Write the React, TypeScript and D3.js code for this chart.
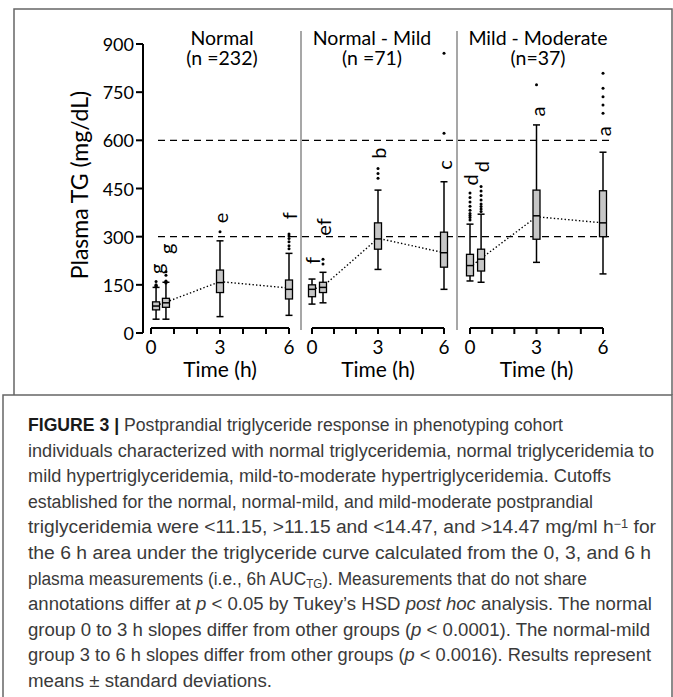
import * as d3 from "d3";
import { useEffect, useRef } from "react";

const yTicks = [0, 150, 300, 450, 600, 750, 900];
const xTicks = [0, 1, 2, 3, 4, 5, 6];
const xLabels = [0, 3, 6];
const cutoffs = [300, 600];

const groupNames = ["Normal", "Normal - Mild", "Mild - Moderate"];
const groupN = ["(n =232)", "(n =71)", "(n=37)"];

// sampling time of each box (h)
const normalTimes = [0.22, 0.65, 3, 6];
const otherTimes = [0, 0.5, 3, 6];

// [whisker low, q1, median, q3, whisker high] (mg/dL)
const normalBoxes = [[43, 72, 84, 97, 142], [43, 80, 94, 108, 158], [51, 126, 157, 196, 287], [55, 106, 136, 165, 248]];
const mildBoxes = [[90, 113, 136, 150, 168], [94, 126, 142, 158, 189], [198, 261, 293, 343, 445], [136, 205, 250, 314, 471]];
const moderateBoxes = [[162, 178, 210, 245, 339], [158, 193, 230, 261, 370], [220, 292, 365, 445, 648], [184, 300, 343, 443, 563]];

const normalOutliers = [[144, 146, 148, 150, 160], [156, 158, 160, 162, 180, 191], [315], [262, 272, 284, 294, 302, 308]];
const mildOutliers = [[], [215, 230], [482, 497, 512], [622, 871]];
const moderateOutliers = [[352, 360, 366, 372, 382, 395, 408, 422, 436], [378, 386, 394, 402, 414, 428, 442, 456], [773], [684, 710, 736, 762, 809]];

const normalMeans = [86, 96, 160, 140];
const mildMeans = [136, 145, 295, 250];
const moderateMeans = [205, 232, 362, 343];

const normalLetters = ["g", "g", "e", "f"];
const mildLetters = ["f", "ef", "b", "c"];
const moderateLetters = ["d", "d", "a", "a"];
const normalLetterAt = [200, 262, 358, 365];
const mildLetterAt = [226, 330, 560, 523];
const moderateLetterAt = [477, 518, 690, 628];

const captionLines = [
  [{ t: "FIGURE 3 | ", b: true }, { t: "Postprandial triglyceride response in phenotyping cohort" }],
  [{ t: "individuals characterized with normal triglyceridemia, normal triglyceridemia to" }],
  [{ t: "mild hypertriglyceridemia, mild-to-moderate hypertriglyceridemia. Cutoffs" }],
  [{ t: "established for the normal, normal-mild, and mild-moderate postprandial" }],
  [{ t: "triglyceridemia were <11.15, >11.15 and <14.47, and >14.47 mg/ml h" }, { t: "\u22121", sup: true }, { t: " for" }],
  [{ t: "the 6 h area under the triglyceride curve calculated from the 0, 3, and 6 h" }],
  [{ t: "plasma measurements (i.e., 6h AUC" }, { t: "TG", sub: true }, { t: "). Measurements that do not share" }],
  [{ t: "annotations differ at " }, { t: "p", i: true }, { t: " < 0.05 by Tukey\u2019s HSD " }, { t: "post hoc", i: true }, { t: " analysis. The normal" }],
  [{ t: "group 0 to 3 h slopes differ from other groups (" }, { t: "p", i: true }, { t: " < 0.0001). The normal-mild" }],
  [{ t: "group 3 to 6 h slopes differ from other groups (" }, { t: "p", i: true }, { t: " < 0.0016). Results represent" }],
  [{ t: "means \u00b1 standard deviations." }],
];
const captionEnds = [563, 654, 611, 593, 656, 651, 587, 652, 650, 651, 272];

const W = 673;
const H = 697;
const chartFont = "Lato, 'Open Sans', sans-serif";

const draw = (ref) => {
  const svg = d3.select(ref.current);
  svg.selectAll("*").remove();

  svg.append("rect").attr("width", W).attr("height", H).attr("fill", "#fff");
  // frames
  svg.append("path")
    .attr("d", "M14,395 L14,9 L672,9 L672,395")
    .attr("fill", "none").attr("stroke", "#666").attr("stroke-width", 1.5);
  svg.append("path")
    .attr("d", "M3,700 L3,395 L672,395 L672,700")
    .attr("fill", "none").attr("stroke", "#666").attr("stroke-width", 1.5);

  const y = d3.scaleLinear().domain([0, 900]).range([333, 44]);

  // y axis
  const yAx = svg.append("g").attr("font-family", chartFont);
  yAx.append("line").attr("x1", 143).attr("x2", 143).attr("y1", y(0)).attr("y2", y(900))
    .attr("stroke", "#000").attr("stroke-width", 2);
  yTicks.forEach(v => {
    yAx.append("line").attr("x1", 136).attr("x2", 143).attr("y1", y(v)).attr("y2", y(v))
      .attr("stroke", "#000").attr("stroke-width", 2);
    yAx.append("text").attr("x", 134).attr("y", y(v)).attr("text-anchor", "end")
      .attr("dominant-baseline", "central").attr("font-size", 18).text(v);
  });
  yAx.append("text").attr("transform", "translate(88,185) rotate(-90)")
    .attr("text-anchor", "middle").attr("font-size", 23).text("Plasma TG (mg/dL)");

  // separators
  [301, 457].forEach(x => {
    svg.append("line").attr("x1", x).attr("x2", x).attr("y1", 31).attr("y2", 330)
      .attr("stroke", "#8a8a8a").attr("stroke-width", 1.5);
  });

  // cutoff lines
  cutoffs.forEach(v => {
    svg.append("line").attr("x1", 158).attr("x2", 610).attr("y1", y(v)).attr("y2", y(v))
      .attr("stroke", "#000").attr("stroke-width", 1.3).attr("stroke-dasharray", "7,5");
  });

  const panels = [
    { range: [151, 289], titleX: 222, times: normalTimes, boxes: normalBoxes, outliers: normalOutliers, means: normalMeans, letters: normalLetters, letterAt: normalLetterAt },
    { range: [312, 444], titleX: 372, times: otherTimes, boxes: mildBoxes, outliers: mildOutliers, means: mildMeans, letters: mildLetters, letterAt: mildLetterAt },
    { range: [470, 603], titleX: 538, times: otherTimes, boxes: moderateBoxes, outliers: moderateOutliers, means: moderateMeans, letters: moderateLetters, letterAt: moderateLetterAt },
  ];

  panels.forEach((p, pi) => {
    const x = d3.scaleLinear().domain([0, 6]).range(p.range);
    const g = svg.append("g").attr("font-family", chartFont);

    g.append("text").attr("x", p.titleX).attr("y", 37).attr("text-anchor", "middle")
      .attr("dominant-baseline", "central").attr("font-size", 19.5).text(groupNames[pi]);
    g.append("text").attr("x", p.titleX).attr("y", 57).attr("text-anchor", "middle")
      .attr("dominant-baseline", "central").attr("font-size", 19.5).text(groupN[pi]);

    // x axis
    g.append("line").attr("x1", x(0)).attr("x2", x(6)).attr("y1", 328).attr("y2", 328)
      .attr("stroke", "#000").attr("stroke-width", 2);
    xTicks.forEach(t => {
      g.append("line").attr("x1", x(t)).attr("x2", x(t)).attr("y1", 328).attr("y2", 334)
        .attr("stroke", "#000").attr("stroke-width", 2);
    });
    xLabels.forEach(t => {
      g.append("text").attr("x", x(t)).attr("y", 346).attr("text-anchor", "middle")
        .attr("dominant-baseline", "central").attr("font-size", 19).text(t);
    });
    g.append("text").attr("x", x(3)).attr("y", 368).attr("text-anchor", "middle")
      .attr("dominant-baseline", "central").attr("font-size", 21).text("Time (h)");

    // mean line
    const line = d3.line().x((d, i) => x(p.times[i])).y(d => y(d));
    g.append("path").attr("d", line(p.means)).attr("fill", "none")
      .attr("stroke", "#000").attr("stroke-width", 1.4).attr("stroke-dasharray", "1.4,2.2");

    const bw = 7;
    p.boxes.forEach((b, i) => {
      const cx = x(p.times[i]);
      const [lo, q1, med, q3, hi] = b;
      g.append("line").attr("x1", cx).attr("x2", cx).attr("y1", y(lo)).attr("y2", y(hi))
        .attr("stroke", "#000").attr("stroke-width", 1.5);
      [lo, hi].forEach(v => {
        g.append("line").attr("x1", cx - bw / 2).attr("x2", cx + bw / 2).attr("y1", y(v)).attr("y2", y(v))
          .attr("stroke", "#000").attr("stroke-width", 1.5);
      });
      g.append("rect").attr("x", cx - bw / 2).attr("width", bw).attr("y", y(q3)).attr("height", y(q1) - y(q3))
        .attr("fill", "#c6c6c6").attr("stroke", "#000").attr("stroke-width", 1.3);
      g.append("line").attr("x1", cx - bw / 2).attr("x2", cx + bw / 2).attr("y1", y(med)).attr("y2", y(med))
        .attr("stroke", "#000").attr("stroke-width", 1.5);

      p.outliers[i].forEach(v => {
        g.append("circle").attr("cx", cx).attr("cy", y(v)).attr("r", 1.5).attr("fill", "#000");
      });

      g.append("text").attr("transform", `translate(${cx},${y(p.letterAt[i])}) rotate(-90)`)
        .attr("text-anchor", "middle").attr("dominant-baseline", "central")
        .attr("font-size", 20).text(p.letters[i]);
    });
  });

  // caption
  const cap = svg.append("g")
    .attr("font-family", "'Liberation Sans Narrow', 'Liberation Sans', Arial, sans-serif")
    .attr("font-size", 18).attr("fill", "#3a3a3a");
  captionLines.forEach((segs, li) => {
    const tx = cap.append("text").attr("x", 28).attr("y", 431 + li * 25.6)
      .attr("textLength", captionEnds[li] - 28).attr("lengthAdjust", "spacingAndGlyphs");
    segs.forEach(s => {
      const ts = tx.append("tspan").text(s.t);
      if (s.b) ts.attr("font-weight", "bold").attr("fill", "#1a1a1a");
      if (s.i) ts.attr("font-style", "italic");
      if (s.sub) ts.attr("font-size", 12).attr("baseline-shift", "-25%");
      if (s.sup) ts.attr("font-size", 12).attr("baseline-shift", "45%");
    });
  });
};

export default function App() {
  const ref = useRef(null);
  useEffect(() => {
    draw(ref);
  }, []);
  return (
    <svg ref={ref} width={W} height={H} style={{ position: "absolute", left: 0, top: 0, display: "block" }} />
  );
}
